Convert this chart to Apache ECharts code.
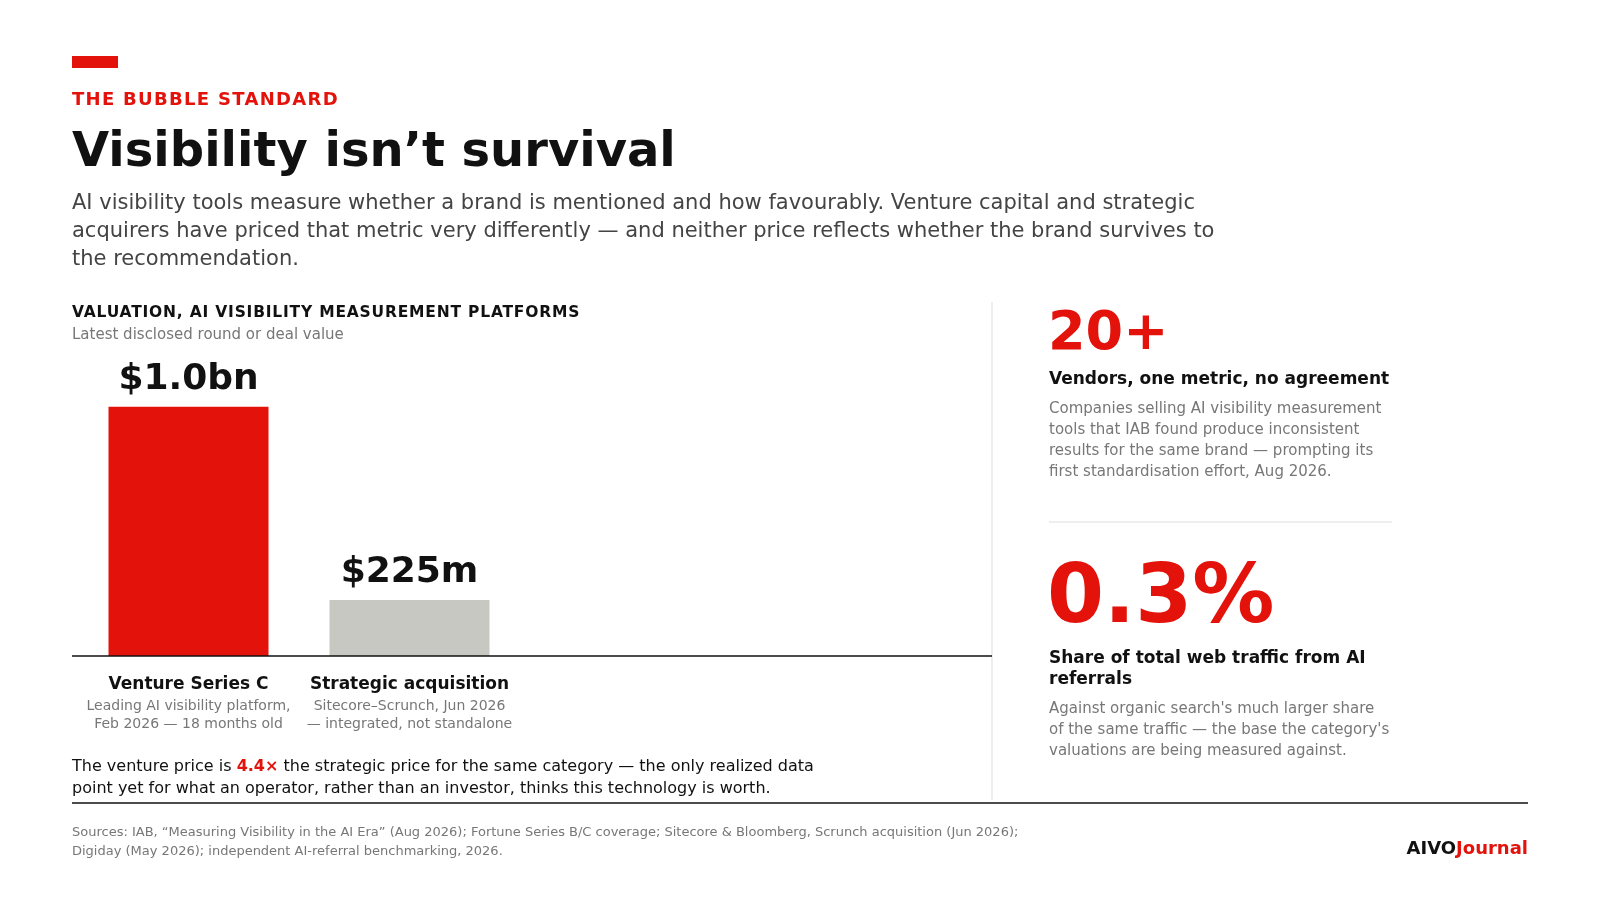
<!DOCTYPE html>
<html>
<head>
<meta charset="utf-8">
<script src="https://cdn.jsdelivr.net/npm/echarts@6/dist/echarts.min.js"></script>
<style>
  html, body { margin:0; padding:0; background:#fff; width:1600px; height:900px; overflow:hidden; }
  body { font-family: "DejaVu Sans", sans-serif; position:relative; }
  #chart { position:absolute; left:0; top:0; width:1600px; height:900px; }
  .t { position:absolute; white-space:nowrap; margin:0; }
  .red { color:#e3120b; }
</style>
</head>
<body>
<div id="chart"></div>

<div class="t" style="left:72px;top:56px;width:46px;height:12px;background:#e3120b;"></div>
<div class="t red" style="left:72px;top:87px;font-size:18px;line-height:24px;font-weight:bold;letter-spacing:1.3px;">THE BUBBLE STANDARD</div>
<div class="t" style="left:72px;top:119px;font-size:48px;line-height:60px;font-weight:bold;color:#111;">Visibility isn’t survival</div>
<div class="t" style="left:72px;top:188px;font-size:21px;line-height:28px;color:#444;">AI visibility tools measure whether a brand is mentioned and how favourably. Venture capital and strategic<br>acquirers have priced that metric very differently — and neither price reflects whether the brand survives to<br>the recommendation.</div>

<div class="t" style="left:72px;top:302px;font-size:15.5px;line-height:20px;font-weight:bold;color:#111;letter-spacing:0.8px;">VALUATION, AI VISIBILITY MEASUREMENT PLATFORMS</div>
<div class="t" style="left:72px;top:324px;font-size:15px;line-height:20px;color:#777;">Latest disclosed round or deal value</div>

<div class="t" style="left:72px;top:755px;font-size:16px;line-height:22px;color:#111;">The venture price is <b class="red">4.4×</b> the strategic price for the same category — the only realized data<br>point yet for what an operator, rather than an investor, thinks this technology is worth.</div>

<div class="t" style="left:72px;top:823px;font-size:13px;line-height:18.5px;color:#777;">Sources: IAB, “Measuring Visibility in the AI Era” (Aug 2026); Fortune Series B/C coverage; Sitecore &amp; Bloomberg, Scrunch acquisition (Jun 2026);<br>Digiday (May 2026); independent AI-referral benchmarking, 2026.</div>
<div class="t" style="right:72px;top:838px;font-size:18px;line-height:20px;font-weight:bold;color:#111;">AIVO<span class="red">Journal</span></div>

<div class="t red" style="left:1048px;top:299px;font-size:54px;line-height:64px;font-weight:bold;">20+</div>
<div class="t" style="left:1049px;top:367px;font-size:17px;line-height:22px;font-weight:bold;color:#111;">Vendors, one metric, no agreement</div>
<div class="t" style="left:1049px;top:398px;font-size:15px;line-height:21px;color:#777;">Companies selling AI visibility measurement<br>tools that IAB found produce inconsistent<br>results for the same brand — prompting its<br>first standardisation effort, Aug 2026.</div>

<div class="t red" style="left:1047px;top:546px;font-size:82px;line-height:96px;font-weight:bold;">0.3%</div>
<div class="t" style="left:1049px;top:647px;font-size:17px;line-height:21px;font-weight:bold;color:#111;">Share of total web traffic from AI<br>referrals</div>
<div class="t" style="left:1049px;top:698px;font-size:15px;line-height:21px;color:#777;">Against organic search's much larger share<br>of the same traffic — the base the category's<br>valuations are being measured against.</div>

<script>
const categories = ['Venture Series C', 'Strategic acquisition'];
const categoryNotes = [
  ['Leading AI visibility platform,', 'Feb 2026 — 18 months old'],
  ['Sitecore–Scrunch, Jun 2026', '— integrated, not standalone']
];
const valuesMillions = [1000, 225];
const valueLabels = ['$1.0bn', '$225m'];
const barColors = ['#e3120b', '#c8c8c3'];

const AXIS_Y = 656;
const GRID_TOP = 357;

const chart = echarts.init(document.getElementById('chart'), null, { renderer: 'canvas' });
chart.setOption({
  animation: false,
  backgroundColor: 'transparent',
  textStyle: { fontFamily: 'DejaVu Sans' },
  grid: { left: 78, width: 442, top: GRID_TOP, bottom: 900 - AXIS_Y, containLabel: false },
  xAxis: {
    type: 'category',
    data: categories,
    axisLine: { show: false },
    axisTick: { show: false },
    axisLabel: {
      interval: 0,
      margin: 15,
      formatter: function (v, i) {
        return '{b|' + v + '}\n{s|' + categoryNotes[i][0] + '}\n{s|' + categoryNotes[i][1] + '}';
      },
      rich: {
        b: { fontFamily: 'DejaVu Sans', fontSize: 17, fontWeight: 'bold', color: '#111', lineHeight: 27, align: 'center' },
        s: { fontFamily: 'DejaVu Sans', fontSize: 14, color: '#777', lineHeight: 17.5, align: 'center' }
      }
    }
  },
  yAxis: { type: 'value', min: 0, max: 1200, show: false, splitLine: { show: false } },
  series: [{
    type: 'bar',
    barWidth: 160,
    data: valuesMillions.map((v, i) => ({ value: v, itemStyle: { color: barColors[i] } })),
    label: {
      show: true,
      position: 'top',
      distance: 9,
      fontFamily: 'DejaVu Sans',
      fontSize: 36,
      fontWeight: 'bold',
      color: '#111',
      formatter: p => valueLabels[p.dataIndex]
    }
  }],
  graphic: [
    { type: 'line', shape: { x1: 72, y1: AXIS_Y, x2: 992, y2: AXIS_Y }, style: { stroke: '#111', lineWidth: 1.5 }, z: 10 },
    { type: 'line', shape: { x1: 992, y1: 302, x2: 992, y2: 800 }, style: { stroke: '#dddddd', lineWidth: 1 } },
    { type: 'line', shape: { x1: 1049, y1: 522, x2: 1392, y2: 522 }, style: { stroke: '#dddddd', lineWidth: 1 } },
    { type: 'line', shape: { x1: 72, y1: 803, x2: 1528, y2: 803 }, style: { stroke: '#111', lineWidth: 1.5 } }
  ]
});
</script>
</body>
</html>
